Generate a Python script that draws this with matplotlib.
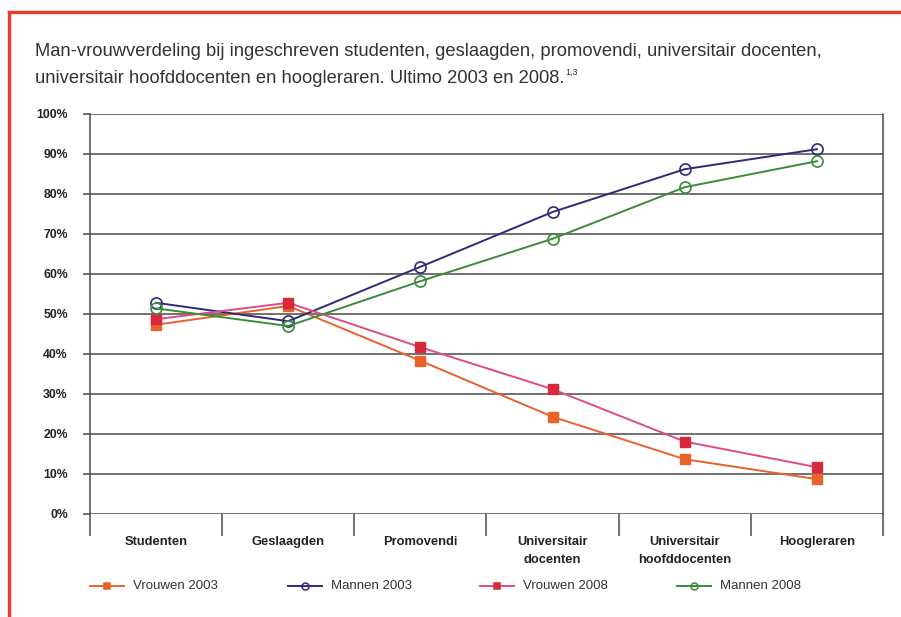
import matplotlib
matplotlib.use("Agg")
import matplotlib.pyplot as plt
from matplotlib.lines import Line2D
import numpy as np

plt.rcParams['font.family'] = ['Liberation Sans', 'DejaVu Sans']

categories = ["Studenten", "Geslaagden", "Promovendi", "Universitair\ndocenten",
              "Universitair\nhoofddocenten", "Hoogleraren"]
vrouwen_2003 = [47.3, 52.0, 38.3, 24.3, 13.7, 8.7]
mannen_2003 = [52.8, 48.2, 61.8, 75.5, 86.2, 91.2]
vrouwen_2008 = [48.7, 52.8, 41.7, 31.2, 18.1, 11.7]
mannen_2008 = [51.4, 47.0, 58.2, 68.8, 81.7, 88.2]
y_ticks = [0, 10, 20, 30, 40, 50, 60, 70, 80, 90, 100]
title_line1 = "Man-vrouwverdeling bij ingeschreven studenten, geslaagden, promovendi, universitair docenten,"
title_line2 = "universitair hoofddocenten en hoogleraren. Ultimo 2003 en 2008."
title_sup = "1,3"

W, H = 901, 617
fig = plt.figure(figsize=(W / 100, H / 100), dpi=100)
fig.patch.set_facecolor("white")

# red frame (left and top)
red = "#ee3a2c"
fig.add_artist(Line2D([9 / W, 9 / W], [0, 1 - 12 / H], color=red, lw=2.4, transform=fig.transFigure))
fig.add_artist(Line2D([9 / W, 1], [1 - 12 / H, 1 - 12 / H], color=red, lw=2.4, transform=fig.transFigure))

left, right, top, bottom = 90, 883, 114, 514
ax = fig.add_axes([left / W, 1 - bottom / H, (right - left) / W, (bottom - top) / H])
ax.set_facecolor("white")

x = np.arange(len(categories))
grid_c = "#4a4a4a"
ax.set_xlim(-0.5, len(categories) - 0.5)
ax.set_ylim(0, 100)
ax.set_yticks(y_ticks)
ax.set_yticklabels([f"{v}%" for v in y_ticks], fontsize=8.8, fontweight="bold", color="#222222")
for v in y_ticks:
    ax.axhline(v, color=grid_c, lw=1.1, zorder=1)
ax.tick_params(axis="y", length=5, width=1.1, color=grid_c, pad=11)

ax.set_xticks(np.arange(len(categories) + 1) - 0.5)
ax.set_xticklabels([])
ax.tick_params(axis="x", which="major", length=16, width=1.1, color=grid_c)
ax.set_xticks(x, minor=True)
ax.set_xticklabels(categories, minor=True, fontsize=9.3, fontweight="bold", color="#222222",
                   linespacing=1.65)
ax.tick_params(axis="x", which="minor", length=0, pad=16)

for s in ["left", "right"]:
    ax.spines[s].set_color(grid_c)
    ax.spines[s].set_linewidth(1.1)
for s in ["top", "bottom"]:
    ax.spines[s].set_visible(False)

c_v03 = "#e8622a"
c_m03 = "#2d2b78"
c_v08_line = "#e04a86"
c_v08_mark = "#d8283c"
c_m08 = "#3a8c3c"

ax.plot(x, vrouwen_2003, color=c_v03, lw=1.4, marker="s", ms=6.5, mfc=c_v03, mec=c_v03, zorder=3,
        label="Vrouwen 2003")
ax.plot(x, mannen_2003, color=c_m03, lw=1.4, marker="o", ms=8, mfc="none", mec=c_m03, mew=1.2, zorder=3,
        label="Mannen 2003")
ax.plot(x, vrouwen_2008, color=c_v08_line, lw=1.4, marker="s", ms=6.5, mfc=c_v08_mark, mec=c_v08_mark,
        zorder=3, label="Vrouwen 2008")
ax.plot(x, mannen_2008, color=c_m08, lw=1.4, marker="o", ms=8, mfc="none", mec=c_m08, mew=1.2, zorder=3,
        label="Mannen 2008")

# title (two lines, baselines placed explicitly)
t1 = fig.text(35 / W, 1 - 56.5 / H, title_line1, fontsize=13.2, color="#333333",
              va="baseline", ha="left")
t2 = fig.text(35 / W, 1 - 83 / H, title_line2, fontsize=13.2, color="#333333",
              va="baseline", ha="left")
fig.canvas.draw()
bb = t2.get_window_extent()
fig.text((bb.x1 + 1) / W, 1 - 75 / H, title_sup, fontsize=6.5, color="#333333",
         va="baseline", ha="left")

# legend entries
leg_y = 1 - 586 / H
leg_items = [("Vrouwen 2003", c_v03, c_v03, "s", c_v03),
             ("Mannen 2003", c_m03, c_m03, "o", "none"),
             ("Vrouwen 2008", c_v08_line, c_v08_mark, "s", c_v08_mark),
             ("Mannen 2008", c_m08, c_m08, "o", "none")]
leg_x = [90, 288, 480, 677]
for (lab, lc, mc, mk, mf), lx in zip(leg_items, leg_x):
    fig.add_artist(Line2D([lx / W, (lx + 34) / W], [leg_y, leg_y], color=lc, lw=1.4,
                          transform=fig.transFigure))
    fig.add_artist(Line2D([(lx + 17) / W], [leg_y], color=lc, marker=mk, ms=5,
                          mfc=mf, mec=mc, mew=1.1, transform=fig.transFigure))
    fig.text((lx + 43) / W, leg_y, lab, fontsize=9.5, color="#333333", va="center", ha="left")

fig.savefig("out.png", dpi=100, facecolor="white")
